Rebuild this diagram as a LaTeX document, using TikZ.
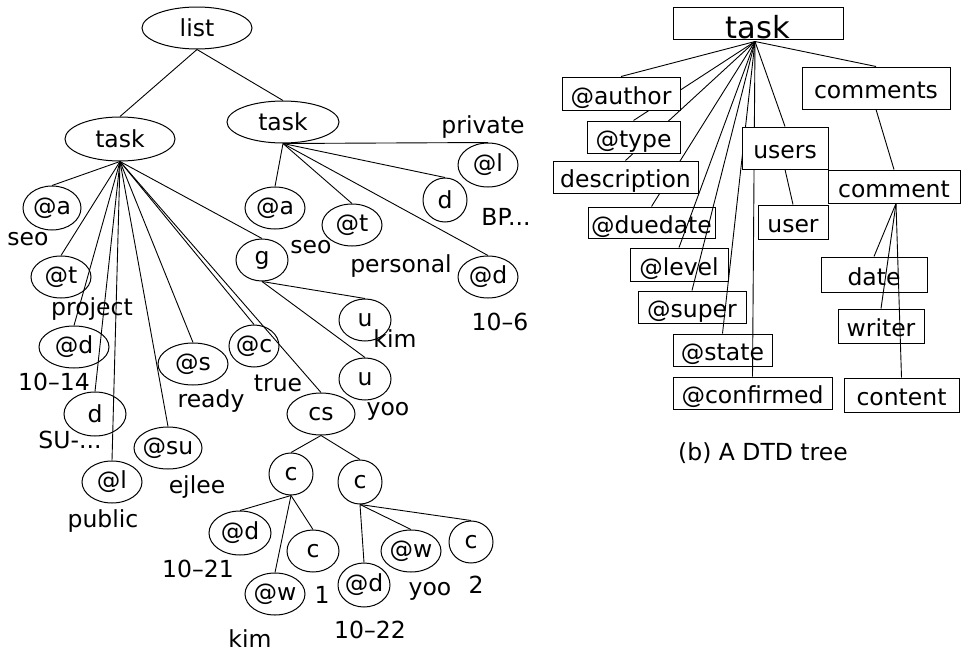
\documentclass[tikz,border=0pt]{standalone}
\usepackage{fontspec}
\setmainfont{DejaVu Sans}
\usetikzlibrary{shapes.geometric,backgrounds}
\newcommand\myfont{\fontsize{23.5}{26}\selectfont}
\newcommand\bigfont{\fontsize{30.5}{33}\selectfont}
\newcommand\elnode[6]{\node[el,minimum width=#4*2pt,minimum height=#5*2pt,label={center:#6}] (#1) at (#2,#3) {};}
\newcommand\bxnode[7][]{\node[bx,#1,minimum width=#4pt-#2pt,minimum height=#5pt-#3pt] (#6) at ({(#2+#4)/2},{(#3+#5)/2}) {#7};}
\begin{document}
\begin{tikzpicture}[x=1pt,y=-1pt,line width=1pt,
  el/.style={draw,ellipse,inner sep=0pt},
  every label/.append style={font=\myfont,inner sep=0pt},
  lbl/.style={anchor=base,inner sep=0pt,font=\myfont},
  bx/.style={draw,rectangle,inner sep=0pt,font=\myfont,text height=21pt,text depth=0pt},
  opaque/.style={fill=white},
  edge/.style={line width=0.9pt}
]
\useasboundingbox (0,0) rectangle (961,656);
% ---------- (a) XML tree ----------
\elnode{list}{197}{28}{55}{21}{list}
\elnode{taskA}{120}{139}{55}{22}{task}
\elnode{taskB}{283}{122}{56}{21}{task}
\elnode{aA}{52}{208}{29}{22}{@a}
\elnode{tA}{61}{277}{30}{21}{@t}
\elnode{dA}{74}{347}{35}{21}{@d}
\elnode{ddA}{95}{414}{31}{22}{d}
\elnode{lA}{112}{482}{30}{21}{@l}
\elnode{sA}{193}{364}{35}{21}{@s}
\elnode{suA}{168}{448}{34}{21}{@su}
\elnode{cA}{254}{346}{25}{21}{@c}
\elnode{gA}{262}{260}{26}{21}{g}
\elnode{csA}{321}{414}{34}{21}{cs}
\elnode{uA}{365}{320}{26}{21}{u}
\elnode{uB}{365}{379}{26}{21}{u}
\elnode{aB}{275}{208}{30}{21}{@a}
\elnode{tB}{352}{225}{30}{21}{@t}
\elnode{ddB}{445}{200}{22}{22}{d}
\elnode{lB}{488}{165}{30}{22}{@l}
\elnode{dB}{488}{277}{30}{21}{@d}
\elnode{cOne}{291}{474}{22}{21}{c}
\elnode{cTwo}{360}{482}{22}{22}{c}
\elnode{dCa}{240}{533}{31}{22}{@d}
\elnode{wCa}{275}{594}{30}{21}{@w}
\elnode{cCa}{313}{551}{26}{21}{c}
\elnode{dCb}{364}{585}{26}{22}{@d}
\elnode{wCb}{411}{551}{30}{21}{@w}
\elnode{cCb}{471}{542}{22}{21}{c}
% labels
\node[lbl] (l1) at (28,245) {seo};
\node[lbl] (l2) at (92,315) {project};
\node[lbl] (l3) at (54,390) {10–14};
\node[lbl] (l4) at (70,448) {SU-...};
\node[lbl] (l5) at (103,527) {public};
\node[lbl] (l6) at (211,407) {ready};
\node[lbl] (l7) at (197,493) {ejlee};
\node[lbl] (l8) at (278,391) {true};
\node[lbl] (l9) at (311,253) {seo};
\node[lbl] (l10) at (401,272) {personal};
\node[lbl] (l11) at (483,133) {private};
\node[lbl] (l12) at (506,225) {BP...};
\node[lbl] (l13) at (500,330) {10–6};
\node[lbl] (l14) at (395,347) {kim};
\node[lbl] (l15) at (388,415) {yoo};
\node[lbl] (l16) at (198,577) {10–21};
\node[lbl] (l17) at (250,647) {kim};
\node[lbl] (l18) at (322,603) {1};
\node[lbl] (l19) at (370,638) {10–22};
\node[lbl] (l20) at (430,595) {yoo};
\node[lbl] (l21) at (476,593) {2};
% ---------- (b) DTD tree ----------
\bxnode[opaque,font=\bigfont,text height=30pt]{673}{7}{843}{39}{dtask}{task}
\bxnode[opaque]{562}{77}{680}{110}{author}{@author}
\bxnode[opaque]{802}{67}{950}{109}{comments}{comments}
\bxnode[opaque]{587}{121}{680}{153}{type}{@type}
\bxnode[opaque]{742}{127}{828}{169}{users}{users}
\bxnode[opaque]{553}{161}{698}{193}{desc}{description}
\bxnode[opaque]{828}{170}{960}{203}{comment}{comment}
\bxnode{588}{207}{715}{238}{duedate}{@duedate}
\bxnode[opaque]{758}{205}{828}{239}{user}{user}
\bxnode{630}{248}{728}{281}{level}{@level}
\bxnode{638}{291}{746}{323}{super}{@super}
\bxnode{673}{334}{772}{366}{state}{@state}
\bxnode[opaque]{673}{377}{832}{409}{confirmed}{@confirmed}
\bxnode{821}{257}{927}{292}{date}{date}
\bxnode{838}{309}{924}{343}{writer}{writer}
\bxnode[opaque]{844}{378}{959}{412}{content}{content}
\node[lbl] (cap) at (763,460) {(b) A DTD tree};
% ---------- connectors ----------
\begin{pgfonlayer}{background}
\foreach \c in {taskA,taskB} \draw[edge] (list.south) -- (\c.north);
\foreach \c in {aA,tA,dA,ddA,lA,sA,suA,cA,gA,csA} \draw[edge] (taskA.south) -- (\c.north);
\foreach \c in {uA,uB} \draw[edge] (gA.south) -- (\c.north);
\foreach \c in {aB,tB,ddB,lB,dB} \draw[edge] (taskB.south) -- (\c.north);
\foreach \c in {cOne,cTwo} \draw[edge] (csA.south) -- (\c.north);
\foreach \c in {dCa,wCa,cCa} \draw[edge] (cOne.south) -- (\c.north);
\foreach \c in {dCb,wCb,cCb} \draw[edge] (cTwo.south) -- (\c.north);
\foreach \c in {author,type,desc,duedate,level,super,state,confirmed,users,comments}
  \draw[edge] ([xshift=-3pt,yshift=-2pt]dtask.south) -- (\c.north);
\draw[edge] (users.south) -- (user.north);
\draw[edge] (comments.south) -- (comment.north);
\foreach \c in {date,writer,content} \draw[edge] ([xshift=2pt]comment.south) -- (\c.north);
\end{pgfonlayer}
\end{tikzpicture}
\end{document}
